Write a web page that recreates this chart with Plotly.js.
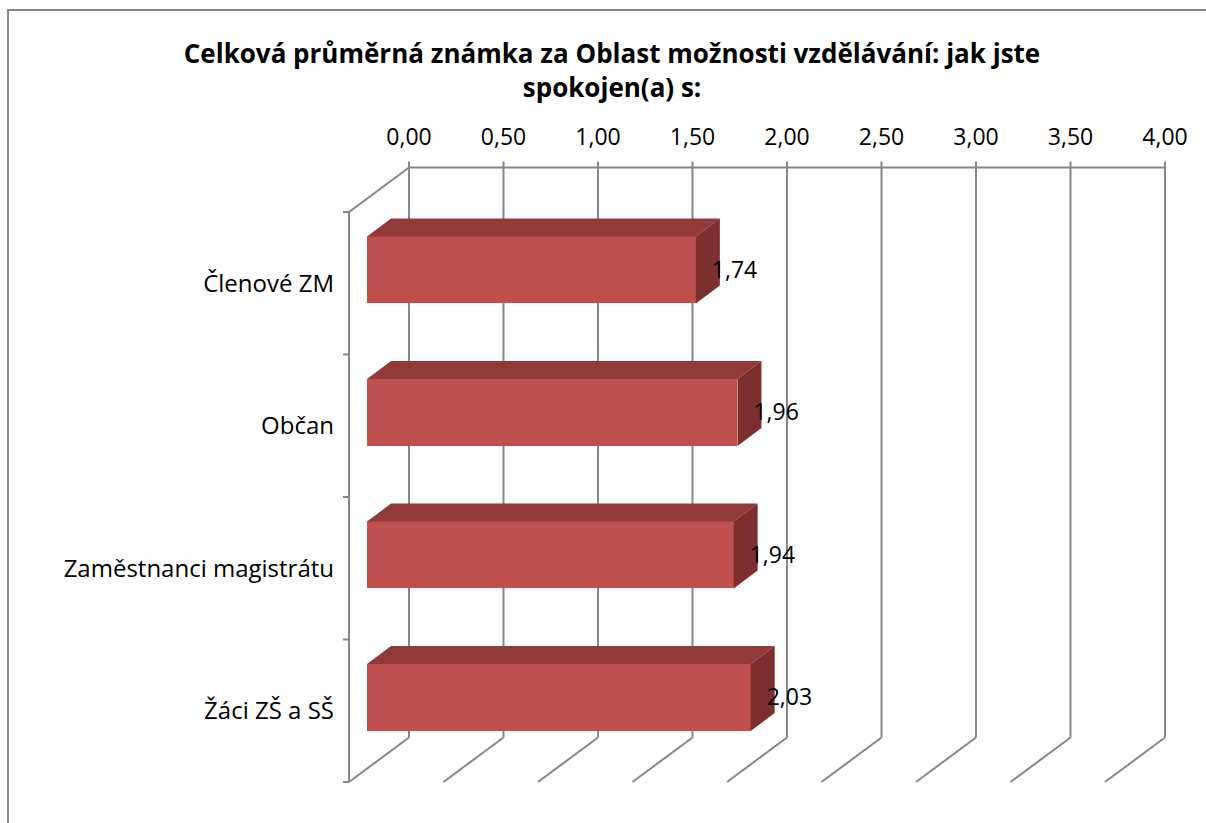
<!DOCTYPE html>
<html>
<head>
<meta charset="utf-8">
<script src="https://cdn.plot.ly/plotly-3.0.1.min.js"></script>
<style>html,body{margin:0;padding:0;background:#fff;}#chart{width:1206px;height:823px;}</style>
</head>
<body>
<div id="chart"></div>
<script>
// ---- data ----
const categories = ['Členové ZM', 'Občan', 'Zaměstnanci magistrátu', 'Žáci ZŠ a SŠ'];
const values = [1.74, 1.96, 1.94, 2.03];
const valueLabels = ['1,74', '1,96', '1,94', '2,03'];
const tickValues = [0, 0.5, 1, 1.5, 2, 2.5, 3, 3.5, 4];
const tickLabels = ['0,00', '0,50', '1,00', '1,50', '2,00', '2,50', '3,00', '3,50', '4,00'];
const titleText = 'Celková průměrná známka za Oblast možnosti vzdělávání: jak jste<br>spokojen(a) s:';

// ---- 3D projection style constants ----
const DX = 60 / 189;        // depth shift in value units
const DY = -44.5 / 142.5;   // depth shift in category-band units
const D0 = 0.3, D1 = 0.7;   // bar front / back depth
const BAR_H = 0.47;         // bar thickness in band units
const TICK_X = 6 / 189, TICK_Y = 6 / 142.5;
const N = categories.length;
const xMax = tickValues[tickValues.length - 1];
const GRID = '#868686';
const FONT = '"Open Sans", sans-serif';

const centers = categories.map((c, i) => i + 0.5);

// shapes: walls, gridlines, axis
const shapes = [];
function seg(x0, y0, x1, y1) {
  shapes.push({type: 'line', xref: 'x', yref: 'y', x0, y0, x1, y1, layer: 'below',
    line: {color: GRID, width: 2}});
}
tickValues.forEach(t => {
  seg(t + DX, DY - TICK_Y, t + DX, N + DY);   // back wall gridline + top tick
  seg(t + DX, N + DY, t, N);                  // floor diagonal
});
seg(0, 0, DX, DY);                            // left wall top edge
seg(DX, DY, xMax + DX, DY);                   // back wall top edge
seg(0, 0, 0, N);                              // front category axis
for (let k = 0; k <= N; k++) seg(-TICK_X, k, 0, k);

// outer frame (cut by image edge)
shapes.push({type: 'rect', xref: 'paper', yref: 'paper', x0: -0.3906, x1: 1.03, y0: -0.08, y1: 1.2303,
  line: {color: GRID, width: 2}, fillcolor: 'rgba(0,0,0,0)', layer: 'below'});

// front faces: real bar trace
const barTrace = {
  type: 'bar', orientation: 'h',
  x: values,
  y: centers.map(c => c + D0 * DY),
  base: values.map(() => D0 * DX),
  width: values.map(() => BAR_H),
  marker: {color: '#C0504D', line: {width: 0}},
  hoverinfo: 'skip', xaxis: 'x', yaxis: 'y'
};

// top and side faces
const topX = [], topY = [], sideX = [], sideY = [];
values.forEach((v, i) => {
  const yc = centers[i] + D0 * DY;
  const top = yc - BAR_H / 2, bot = yc + BAR_H / 2;
  const xf0 = D0 * DX, xf1 = v + D0 * DX, xb0 = D1 * DX, xb1 = v + D1 * DX;
  const dd = (D1 - D0) * DY;
  topX.push(xf0, xb0, xb1, xf1, xf0, null);
  topY.push(top, top + dd, top + dd, top, top, null);
  sideX.push(xf1, xb1, xb1, xf1, xf1, null);
  sideY.push(top, top + dd, bot + dd, bot, top, null);
});
const topTrace = {type: 'scatter', mode: 'lines', x: topX, y: topY, fill: 'toself',
  fillcolor: '#923A39', line: {width: 0, color: '#923A39'}, hoverinfo: 'skip'};
const sideTrace = {type: 'scatter', mode: 'lines', x: sideX, y: sideY, fill: 'toself',
  fillcolor: '#7C2F2E', line: {width: 0, color: '#7C2F2E'}, hoverinfo: 'skip'};

const labelTrace = {type: 'scatter', mode: 'text',
  x: values.map(v => v + D0 * DX + 16 / 189),
  y: centers.map(c => c + D0 * DY + 2 / 142.5),
  text: valueLabels, textposition: 'middle right',
  textfont: {family: FONT, size: 23, color: '#000'},
  cliponaxis: false, hoverinfo: 'skip'};

// dummy trace to anchor top tick-label axis
const axisTrace = {type: 'scatter', mode: 'markers', x: tickValues, y: tickValues.map(() => DY),
  xaxis: 'x2', yaxis: 'y', marker: {size: 0, opacity: 0}, hoverinfo: 'skip', showlegend: false};

const L = 340, R = 1190, T = 156, B = 790;
const xr = [(L - 349) / 189, (R - 349) / 189];
const yr = [(B - 212) / 142.5, (T - 212) / 142.5];

const layout = {
  width: 1206, height: 823,
  margin: {l: L, r: 1206 - R, t: T, b: 823 - B, pad: 0},
  paper_bgcolor: '#fff', plot_bgcolor: 'rgba(0,0,0,0)',
  showlegend: false,
  font: {family: FONT, color: '#000'},
  title: {text: titleText, xref: 'container', yref: 'container', x: 612 / 1206, xanchor: 'center',
    y: 1 - 63 / 823, yanchor: 'top',
    font: {family: FONT, size: 26, color: '#000', weight: 'bold'}},
  xaxis: {range: xr, visible: false, fixedrange: true},
  xaxis2: {range: [xr[0] - DX, xr[1] - DX], overlaying: 'x', side: 'top', anchor: 'y',
    tickvals: tickValues, ticktext: tickLabels, ticks: '', showgrid: false, zeroline: false, showline: false,
    ticklabelstandoff: 5,
    tickfont: {family: FONT, size: 23, color: '#000'}, fixedrange: true},
  yaxis: {range: yr, tickvals: centers, ticktext: categories, ticks: '', showgrid: false,
    zeroline: false, showline: false, ticklabelstandoff: 5,
    tickfont: {family: FONT, size: 24, color: '#000'}, fixedrange: true},
  shapes: shapes,
  bargap: 0
};

Plotly.newPlot('chart', [barTrace, topTrace, sideTrace, axisTrace, labelTrace], layout,
  {displayModeBar: false, staticPlot: true});
</script>
</body>
</html>
